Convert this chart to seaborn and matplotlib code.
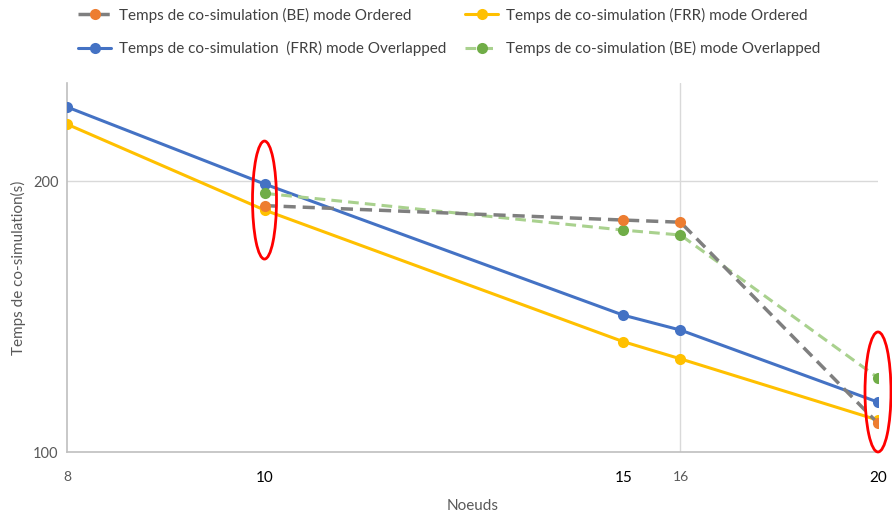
import matplotlib
matplotlib.use("Agg")
import matplotlib.pyplot as plt
import matplotlib.ticker as mticker
from matplotlib.patches import Ellipse
from matplotlib.transforms import ScaledTranslation
import seaborn as sns
import pandas as pd

sns.set_theme(style="white")
plt.rcParams['font.family'] = ['Lato', 'DejaVu Sans']

nodes_frr = [8, 10, 15, 16, 20]
nodes_be = [10, 15, 16, 20]
frr_overlapped = [241.7, 198.5, 141.9, 136.6, 113.6]
frr_ordered = [231.3, 185.7, 132.6, 126.9, 108.5]
be_ordered = [187.8, 181.0, 180.0, 107.6]
be_overlapped = [193.8, 176.4, 174.2, 120.9]
tick_values = [8, 10, 15, 16, 20]
tick_labels = ["8", "10", "15", "16", "20"]

lbl_be_ord = "Temps de co-simulation (BE) mode Ordered"
lbl_frr_ord = "Temps de co-simulation (FRR) mode Ordered"
lbl_frr_ovl = "Temps de co-simulation  (FRR) mode Overlapped"
lbl_be_ovl = "Temps de co-simulation (BE) mode Overlapped"

fig = plt.figure(figsize=(8.92, 5.16), dpi=100)
ax = fig.add_axes([67/892, (516-452)/516, (878-67)/892, (452-83)/516])

df_frr_ovl = pd.DataFrame({"x": nodes_frr, "y": frr_overlapped})
df_frr_ord = pd.DataFrame({"x": nodes_frr, "y": frr_ordered})
df_be_ord = pd.DataFrame({"x": nodes_be, "y": be_ordered})
df_be_ovl = pd.DataFrame({"x": nodes_be, "y": be_overlapped})

lw = 2.2
ms = 8
sns.lineplot(data=df_frr_ord, x="x", y="y", ax=ax, color="#FFC000", lw=lw,
             marker="o", markersize=ms, markeredgewidth=0, label=lbl_frr_ord, zorder=3)
sns.lineplot(data=df_frr_ovl, x="x", y="y", ax=ax, color="#4472C4", lw=lw,
             marker="o", markersize=ms, markeredgewidth=0, label=lbl_frr_ovl, zorder=4)
sns.lineplot(data=df_be_ovl, x="x", y="y", ax=ax, color="#A9D18E", lw=lw,
             marker="o", markersize=ms, markeredgewidth=0, markerfacecolor="#70AD47",
             dashes=False, linestyle=(0, (3.5, 2)), label=lbl_be_ovl, zorder=5)
sns.lineplot(data=df_be_ord, x="x", y="y", ax=ax, color="#7F7F7F", lw=lw + 0.3,
             marker="o", markersize=ms, markeredgewidth=0, markerfacecolor="#ED7D31",
             dashes=False, linestyle=(0, (3.5, 2)), label=lbl_be_ord, zorder=6)

ax.set_xscale("log", base=2)
ax.set_yscale("log", base=2)
ax.set_xlim(8, 20)
ax.set_ylim(100, 257)
ax.xaxis.set_major_locator(mticker.FixedLocator(tick_values))
ax.xaxis.set_major_formatter(mticker.FixedFormatter(tick_labels))
ax.xaxis.set_minor_locator(mticker.NullLocator())
ax.yaxis.set_major_locator(mticker.FixedLocator([100, 200]))
ax.yaxis.set_major_formatter(mticker.FixedFormatter(["100", "200"]))
ax.yaxis.set_minor_locator(mticker.NullLocator())

ax.grid(False)
ax.axhline(200, color="#D9D9D9", lw=1.0, zorder=0)
ax.axvline(16, color="#D9D9D9", lw=1.0, zorder=0)

for s in ["top", "right"]:
    ax.spines[s].set_visible(False)
for s in ["left", "bottom"]:
    ax.spines[s].set_color("#BFBFBF")
    ax.spines[s].set_linewidth(1.2)

ax.tick_params(axis="x", length=0, pad=14)
ax.tick_params(axis="y", length=0, pad=6, labelsize=10.5, labelcolor="#595959")
for t, v in zip(ax.get_xticklabels(), tick_values):
    if v in (8, 16):
        t.set_color("#595959")
        t.set_fontsize(10)
    else:
        t.set_color("black")
        t.set_fontsize(11)

ax.set_xlabel("Noeuds", fontsize=11, color="#595959", labelpad=10)
ax.set_ylabel("Temps de co-simulation(s)", fontsize=11, color="#595959", labelpad=5)

# red ellipses highlighting points
for (cx, cy, w, h) in [(10, 190.5, 0.24, 1.18), (20, 116.6, 0.26, 1.2)]:
    e = Ellipse((0, 0), w, h, fill=False, edgecolor="red", lw=2.0,
                transform=fig.dpi_scale_trans + ScaledTranslation(cx, cy, ax.transData),
                zorder=10, clip_on=False)
    ax.add_artist(e)

handles, labels = ax.get_legend_handles_labels()
hmap = dict(zip(labels, handles))
order = [lbl_be_ord, lbl_frr_ovl, lbl_frr_ord, lbl_be_ovl]
ax.legend([hmap[k] for k in order], order, ncol=2, frameon=False,
          loc="upper left", bbox_to_anchor=(64/892, 1.012), bbox_transform=fig.transFigure,
          fontsize=11, labelcolor="#404040", columnspacing=1.2, handlelength=2.2,
          handletextpad=0.5, labelspacing=1.2)

fig.savefig("out.png", dpi=100)
